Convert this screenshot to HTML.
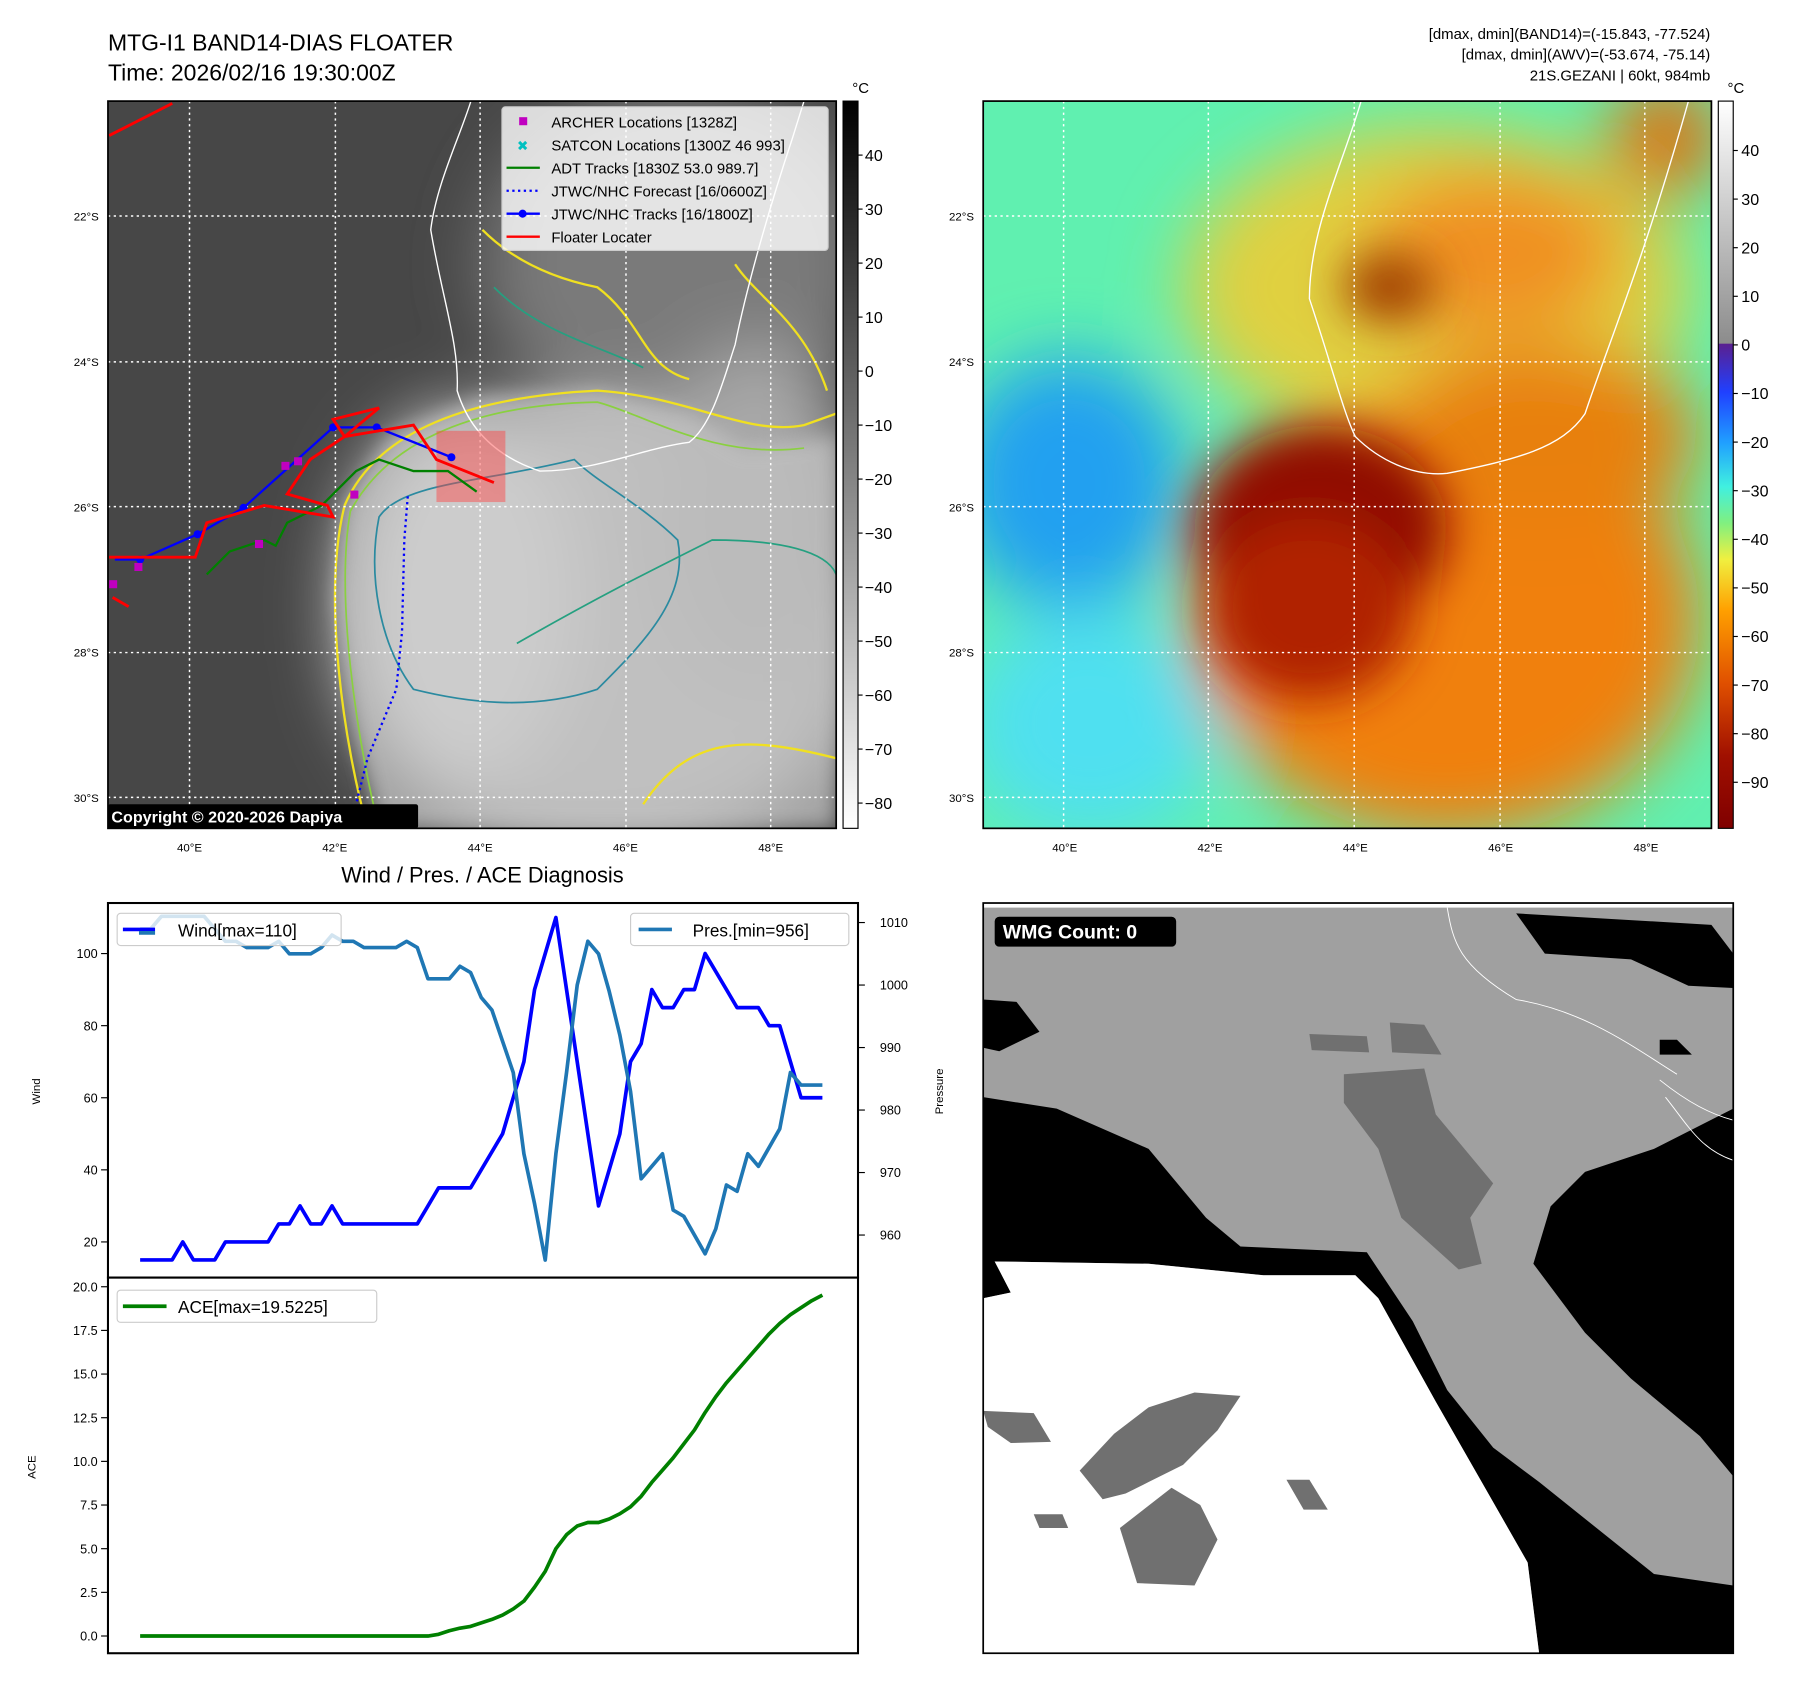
<!DOCTYPE html>
<html><head><meta charset="utf-8">
<style>
html,body{margin:0;padding:0;background:#fff;}
svg{display:block;font-family:"Liberation Sans","DejaVu Sans",sans-serif;}
</style></head>
<body>
<svg id="root" width="1801" height="1690" viewBox="0 0 1568 1471" preserveAspectRatio="none" xmlns="http://www.w3.org/2000/svg">
<defs>
  <clipPath id="cl1"><rect x="94" y="88" width="634" height="633"/></clipPath>
  <clipPath id="cl2"><rect x="856" y="88" width="634" height="633"/></clipPath>
  <clipPath id="cl3"><rect x="856" y="786" width="653" height="653"/></clipPath>
  <filter id="blur8" x="-50%" y="-50%" width="200%" height="200%"><feGaussianBlur stdDeviation="8"/></filter>
  <filter id="blur20" x="-50%" y="-50%" width="200%" height="200%"><feGaussianBlur stdDeviation="20"/></filter>
  <filter id="blur35" x="-50%" y="-50%" width="200%" height="200%"><feGaussianBlur stdDeviation="30"/></filter>
  <linearGradient id="cb1" x1="0" y1="0" x2="0" y2="1">
    <stop offset="0" stop-color="#000"/><stop offset="1" stop-color="#fff"/>
  </linearGradient>
  <linearGradient id="cb2" x1="0" y1="0" x2="0" y2="1">
    <stop offset="0" stop-color="#ffffff"/>
    <stop offset="0.333" stop-color="#8c8c8c"/>
    <stop offset="0.334" stop-color="#5a2090"/>
    <stop offset="0.40" stop-color="#2040ff"/>
    <stop offset="0.47" stop-color="#20a0ff"/>
    <stop offset="0.53" stop-color="#40f0e0"/>
    <stop offset="0.58" stop-color="#80f080"/>
    <stop offset="0.63" stop-color="#f0f040"/>
    <stop offset="0.70" stop-color="#ffa000"/>
    <stop offset="0.80" stop-color="#e05000"/>
    <stop offset="0.90" stop-color="#a01000"/>
    <stop offset="1" stop-color="#800000"/>
  </linearGradient>
</defs>

<text x="94" y="44" font-size="20">MTG-I1 BAND14-DIAS FLOATER</text>
<text x="94" y="70" font-size="20">Time: 2026/02/16 19:30:00Z</text>
<g font-size="13" text-anchor="end">
  <text x="1489" y="34">[dmax, dmin](BAND14)=(-15.843, -77.524)</text>
  <text x="1489" y="52">[dmax, dmin](AWV)=(-53.674, -75.14)</text>
  <text x="1489" y="70">21S.GEZANI | 60kt, 984mb</text>
</g>

<g clip-path="url(#cl1)">
  <rect x="94" y="88" width="634" height="633" fill="#474747"/>
  <g filter="url(#blur35)">
    <ellipse cx="590" cy="230" rx="170" ry="150" fill="#7a7a7a"/>
    <ellipse cx="530" cy="550" rx="230" ry="200" fill="#b8b8b8"/>
    <ellipse cx="400" cy="520" rx="100" ry="160" fill="#e2e2e2"/>
    <ellipse cx="660" cy="450" rx="90" ry="150" fill="#a8a8a8"/>
  </g>
  <path d="M300,440 L340,380 L420,345 L520,340 L600,360 L650,390 L728,380 L728,721 L330,721 L310,640 L292,520 Z" fill="#c4c4c4" filter="url(#blur8)" opacity="0.7"/>
  <path d="M300,440 C330,370 420,345 520,340 C600,345 650,380 700,370 L728,360 M320,721 C300,650 280,520 300,440 M728,660 C650,640 600,640 560,700" fill="none" stroke="#f0e020" stroke-width="2"/>
  <path d="M420,200 C440,220 470,240 520,250 C560,280 560,320 600,330 M640,230 C660,260 700,280 720,340" fill="none" stroke="#f0e020" stroke-width="2"/>
  <path d="M305,445 C340,380 420,352 520,350 C560,360 620,400 700,390 M330,721 C310,640 292,520 305,445" fill="none" stroke="#8ad040" stroke-width="1.5"/>
  <path d="M330,450 C350,420 420,420 500,400 C520,420 560,440 590,470 C600,520 560,560 520,600 C460,620 400,610 360,600 C330,560 320,500 330,450 Z" fill="none" stroke="#2a8aa0" stroke-width="1.5"/>
  <path d="M450,560 C520,520 560,500 620,470 C680,470 720,480 728,500 M430,250 C470,290 520,300 560,320" fill="none" stroke="#25a080" stroke-width="1.5"/>
  <path d="M410,88 C400,120 380,160 375,200 C385,260 400,300 398,340 C410,380 440,400 470,410 C520,410 560,390 600,385 C620,370 630,330 640,300 C650,250 670,180 690,120 L700,88" fill="none" stroke="#fff" stroke-width="1.2"/>
  <g stroke="#fff" stroke-width="1.3" stroke-dasharray="2,3">
    <line x1="165" y1="88" x2="165" y2="721"/><line x1="292" y1="88" x2="292" y2="721"/><line x1="418" y1="88" x2="418" y2="721"/><line x1="545" y1="88" x2="545" y2="721"/><line x1="671" y1="88" x2="671" y2="721"/>
    <line x1="94" y1="188" x2="728" y2="188"/><line x1="94" y1="315" x2="728" y2="315"/><line x1="94" y1="441" x2="728" y2="441"/><line x1="94" y1="568" x2="728" y2="568"/><line x1="94" y1="694" x2="728" y2="694"/>
  </g>
  <rect x="380" y="375" width="60" height="62" fill="#ff4040" opacity="0.45"/>
  <polyline points="355,432 352,470 350,550 345,600 320,660 310,700" fill="none" stroke="#0000ff" stroke-width="2" stroke-dasharray="2,3"/>
  <polyline points="180,500 200,480 230,470 240,475 250,455 280,440 300,420 310,410 330,400 360,410 390,410 415,428" fill="none" stroke="#008000" stroke-width="2"/>
  <polyline points="100,487 122,487 172,465 212,442 290,372 328,372 393,398" fill="none" stroke="#0000ff" stroke-width="2"/>
  <g fill="#0000ff"><circle cx="122" cy="487" r="3.5"/><circle cx="172" cy="465" r="3.5"/><circle cx="212" cy="442" r="3.5"/><circle cx="290" cy="372" r="3.5"/><circle cx="328" cy="372" r="3.5"/><circle cx="393" cy="398" r="3.5"/></g>
  <polyline points="95,485 170,485 180,455 230,440 290,450 285,440 250,430 270,400 300,380 290,365 330,355 300,380 360,370 380,400 430,420" fill="none" stroke="#ff0000" stroke-width="2.5"/>
  <polyline points="95,118 150,90" fill="none" stroke="#ff0000" stroke-width="2.5"/>
  <polyline points="98,520 112,528" fill="none" stroke="#ff0000" stroke-width="2.5"/>
  <g fill="#c000c0"><rect x="245" y="402" width="7" height="7"/><rect x="256" y="398" width="7" height="7"/><rect x="305" y="427" width="7" height="7"/><rect x="222" y="470" width="7" height="7"/><rect x="117" y="490" width="7" height="7"/><rect x="95" y="505" width="7" height="7"/></g>
  <rect x="94" y="700" width="270" height="21" fill="#000" rx="2"/>
  <text x="97" y="716" font-size="14" font-weight="bold" fill="#fff">Copyright © 2020-2026 Dapiya</text>
</g>
<rect x="94" y="88" width="634" height="633" fill="none" stroke="#000" stroke-width="1.5"/>
<g>
  <rect x="437" y="93" width="284" height="125" fill="#fff" fill-opacity="0.8" stroke="#ccc" rx="3"/>
  <rect x="452" y="102" width="7" height="7" fill="#c000c0"/>
  <text x="455" y="131" font-size="12" fill="#00c0c0" text-anchor="middle">✖</text>
  <line x1="441" y1="146" x2="470" y2="146" stroke="#008000" stroke-width="2"/>
  <line x1="441" y1="166" x2="470" y2="166" stroke="#0000ff" stroke-width="2" stroke-dasharray="2,3"/>
  <line x1="441" y1="186" x2="470" y2="186" stroke="#0000ff" stroke-width="2"/><circle cx="455" cy="186" r="3.5" fill="#0000ff"/>
  <line x1="441" y1="206" x2="470" y2="206" stroke="#ff0000" stroke-width="2"/>
  <g font-size="13">
    <text x="480" y="111">ARCHER Locations [1328Z]</text>
    <text x="480" y="131">SATCON Locations [1300Z 46 993]</text>
    <text x="480" y="151">ADT Tracks [1830Z 53.0 989.7]</text>
    <text x="480" y="171">JTWC/NHC Forecast [16/0600Z]</text>
    <text x="480" y="191">JTWC/NHC Tracks [16/1800Z]</text>
    <text x="480" y="211">Floater Locater</text>
  </g>
</g>
<rect x="734" y="88" width="13" height="633" fill="url(#cb1)" stroke="#000" stroke-width="1"/>
<text x="742" y="81" font-size="13">°C</text>
<g id="cb1ticks" font-size="14"></g>

<g clip-path="url(#cl2)">
  <rect x="856" y="88" width="634" height="633" fill="#60f0b0"/>
  <g filter="url(#blur35)">
    <ellipse cx="930" cy="420" rx="100" ry="110" fill="#20a0f0"/>
    <ellipse cx="950" cy="630" rx="110" ry="100" fill="#50e0f0"/>
    <ellipse cx="1250" cy="250" rx="220" ry="140" fill="#e0d040"/>
    <ellipse cx="1300" cy="220" rx="110" ry="70" fill="#f09020"/>
    <ellipse cx="1450" cy="120" rx="50" ry="50" fill="#e07010"/>
    <ellipse cx="1260" cy="540" rx="220" ry="190" fill="#f08010"/>
    <ellipse cx="1340" cy="380" rx="140" ry="80" fill="#e88010"/>
  </g>
  <g filter="url(#blur20)">
    <ellipse cx="1150" cy="460" rx="110" ry="90" fill="#900800"/>
    <ellipse cx="1140" cy="530" rx="90" ry="80" fill="#b02000"/>
    <ellipse cx="1210" cy="250" rx="40" ry="30" fill="#a04000"/>
  </g>
  <path d="M1185,88 C1170,140 1140,200 1140,260 C1160,320 1170,360 1180,380 C1200,400 1230,415 1260,412 C1320,400 1360,390 1380,360 C1400,300 1430,230 1470,88" fill="none" stroke="#fff" stroke-width="1.2"/>
  <g stroke="#fff" stroke-width="1.3" stroke-dasharray="2,3">
    <line x1="926" y1="88" x2="926" y2="721"/><line x1="1052" y1="88" x2="1052" y2="721"/><line x1="1179" y1="88" x2="1179" y2="721"/><line x1="1306" y1="88" x2="1306" y2="721"/><line x1="1432" y1="88" x2="1432" y2="721"/>
    <line x1="856" y1="188" x2="1490" y2="188"/><line x1="856" y1="315" x2="1490" y2="315"/><line x1="856" y1="441" x2="1490" y2="441"/><line x1="856" y1="568" x2="1490" y2="568"/><line x1="856" y1="694" x2="1490" y2="694"/>
  </g>
</g>
<rect x="856" y="88" width="634" height="633" fill="none" stroke="#000" stroke-width="1.5"/>
<rect x="1496" y="88" width="13" height="633" fill="url(#cb2)" stroke="#000" stroke-width="1"/>
<text x="1504" y="81" font-size="13">°C</text>
<g id="cb2ticks" font-size="14"></g>
<g id="maplabels" font-size="10"></g>

<text x="420" y="768" font-size="19" text-anchor="middle">Wind / Pres. / ACE Diagnosis</text>
<g id="charts"></g>

<g clip-path="url(#cl3)">
  <rect x="856" y="786" width="653" height="653" fill="#fff"/>
  <rect x="856" y="790" width="653" height="649" fill="#a0a0a0"/>
  <polygon points="856,870 885,872 905,898 870,915 856,912" fill="#000"/>
  <polygon points="1320,795 1490,805 1509,830 1509,860 1470,858 1420,835 1345,830" fill="#000"/>
  <polygon points="856,955 920,965 1000,1000 1050,1060 1080,1085 1190,1090 1230,1150 1260,1210 1300,1260 1340,1290 1390,1330 1440,1370 1509,1380 1509,1439 1340,1439 1330,1360 1290,1290 1250,1220 1200,1130 1180,1110 1100,1110 1000,1100 866,1098 880,1125 856,1130" fill="#000"/>
  <polygon points="1509,965 1440,1000 1380,1020 1350,1050 1335,1100 1380,1160 1420,1200 1480,1250 1509,1285" fill="#000"/>
  <polygon points="856,1130 880,1125 866,1098 1000,1100 1100,1110 1180,1110 1200,1130 1250,1220 1290,1290 1330,1360 1340,1439 856,1439" fill="#fff"/>
  <g fill="#707070">
    <polygon points="1170,935 1240,930 1250,970 1300,1030 1280,1060 1290,1100 1270,1105 1220,1060 1200,1000 1170,960"/>
    <polygon points="1140,900 1190,902 1192,916 1142,914"/>
    <polygon points="1210,890 1240,892 1255,918 1212,916"/>
    <polygon points="856,1228 900,1230 915,1255 880,1256 860,1242"/>
    <polygon points="940,1280 970,1248 1000,1225 1040,1212 1080,1215 1060,1245 1030,1275 1000,1290 980,1300 960,1305"/>
    <polygon points="975,1330 1020,1295 1045,1310 1060,1340 1040,1380 990,1378"/>
    <polygon points="900,1318 925,1318 930,1330 905,1330"/>
    <polygon points="1120,1288 1140,1288 1156,1314 1135,1314"/>
  </g>
  <polygon points="1445,905 1460,905 1473,918 1445,918" fill="#000"/>
  <path d="M1260,790 C1265,820 1270,840 1320,870 C1380,880 1420,910 1460,935 M1445,940 C1470,960 1490,970 1509,975 M1450,955 C1470,980 1480,1000 1509,1010" fill="none" stroke="#fff" stroke-width="0.8"/>
</g>
<rect x="856" y="786" width="653" height="653" fill="none" stroke="#000" stroke-width="1.5"/>
<rect x="866" y="798" width="158" height="26" rx="4" fill="#000"/>
<text x="873" y="817" font-size="17" font-weight="bold" fill="#fff">WMG Count: 0</text>

<script>
const windVals=[15,15,15,15,20,15,15,15,20,20,20,20,20,25,25,30,25,25,30,25,25,25,25,25,25,25,25,30,35,35,35,35,40,45,50,60,70,90,100,110,90,70,50,30,40,50,70,75,90,85,85,90,90,100,95,90,85,85,85,80,80,70,60,60,60];
const presVals=[1009,1009,1011,1011,1011,1011,1011,1009,1007,1007,1006,1006,1006,1007,1005,1005,1005,1006,1008,1007,1007,1006,1006,1006,1006,1007,1006,1001,1001,1001,1003,1002,998,996,991,986,973,965,956,973,986,1000,1007,1005,999,992,983,969,971,973,964,963,960,957,961,968,967,973,971,974,977,986,984,984,984];
const aceVals=[0,0,0,0,0,0,0,0,0,0,0,0,0,0,0,0,0,0,0,0,0,0,0,0,0,0,0,0,0.1,0.3,0.45,0.55,0.75,0.95,1.2,1.55,2.0,2.8,3.7,5.0,5.8,6.3,6.5,6.5,6.7,7.0,7.4,8.0,8.8,9.5,10.2,11.0,11.8,12.8,13.7,14.5,15.2,15.9,16.6,17.3,17.9,18.4,18.8,19.2,19.52];
const windTicks=[20,40,60,80,100];
const presTicks=[960,970,980,990,1000,1010];
const aceTicks=[0,2.5,5,7.5,10,12.5,15,17.5,20];
const irTicks=[40,30,20,10,0,-10,-20,-30,-40,-50,-60,-70,-80];
const awvTicks=[40,30,20,10,0,-10,-20,-30,-40,-50,-60,-70,-80,-90];
const latLabels=["22°S","24°S","26°S","28°S","30°S"];
const lonLabels=["40°E","42°E","44°E","46°E","48°E"];

const NS="http://www.w3.org/2000/svg";
function mk(tag,attrs,parent,txt){const e=document.createElementNS(NS,tag);for(const k in attrs)e.setAttribute(k,attrs[k]);if(txt!==undefined)e.textContent=txt;parent.appendChild(e);return e;}
const charts=document.getElementById('charts');
const X0=122,X1=716;
const xS=i=>X0+(X1-X0)*i/(windVals.length-1);
const yW=v=>1081-(v-20)*(1081-830)/80;
const yP=v=>1075-(v-960)*(1075-803)/50;
const yA=v=>1424-v*(1424-1120)/20;

let f1=mk('rect',{x:94,y:786,width:653,height:326,fill:'none',stroke:'#000','stroke-width':1.8},charts);


let f2=mk('rect',{x:94,y:1112,width:653,height:327,fill:'none',stroke:'#000','stroke-width':1.8},charts);



windTicks.forEach(t=>{const y=yW(t);mk('line',{x1:88,y1:y,x2:94,y2:y,stroke:'#000'},charts);
 const tx=mk('text',{x:85,y:y+4,'font-size':11,'text-anchor':'end'},charts,String(t));
 
 });
presTicks.forEach(t=>{const y=yP(t);mk('line',{x1:747,y1:y,x2:753,y2:y,stroke:'#000'},charts);
 const tx=mk('text',{x:766,y:y+4,'font-size':11},charts,String(t));
 
 });
aceTicks.forEach(t=>{const y=yA(t);mk('line',{x1:88,y1:y,x2:94,y2:y,stroke:'#000'},charts);
 const tx=mk('text',{x:85,y:y+4,'font-size':11,'text-anchor':'end'},charts,t.toFixed(1));
 
 });

let lab=mk('text',{x:0,y:0,'font-size':10,'text-anchor':'middle',transform:'translate(35,950) rotate(-90)'},charts,'Wind');


lab=mk('text',{x:0,y:0,'font-size':10,'text-anchor':'middle',transform:'translate(821,950) rotate(-90)'},charts,'Pressure');


lab=mk('text',{x:0,y:0,'font-size':10,'text-anchor':'middle',transform:'translate(31,1277) rotate(-90)'},charts,'ACE');



let pw=mk('polyline',{points:windVals.map((v,i)=>xS(i)+','+yW(v)).join(' '),fill:'none',stroke:'#0000ff','stroke-width':3.2,'stroke-linejoin':'round'},charts);


let pp=mk('polyline',{points:presVals.map((v,i)=>xS(i)+','+yP(v)).join(' '),fill:'none',stroke:'#1f77b4','stroke-width':3.2,'stroke-linejoin':'round'},charts);


let pa=mk('polyline',{points:aceVals.map((v,i)=>xS(i)+','+yA(v)).join(' '),fill:'none',stroke:'#008000','stroke-width':3.2,'stroke-linejoin':'round'},charts);



let lg=mk('g',{},charts);


mk('rect',{x:102,y:795,width:195,height:28,rx:3,fill:'#fff','fill-opacity':0.8,stroke:'#ccc'},lg);
mk('line',{x1:107,y1:809,x2:135,y2:809,stroke:'#0000ff','stroke-width':3.2},lg);
mk('line',{x1:121,y1:812,x2:135,y2:812,stroke:'#1f77b4','stroke-width':3.2},lg);
mk('text',{x:155,y:815,'font-size':15},lg,'Wind[max=110]');
lg=mk('g',{},charts);


mk('rect',{x:549,y:795,width:190,height:28,rx:3,fill:'#fff','fill-opacity':0.8,stroke:'#ccc'},lg);
mk('line',{x1:556,y1:809,x2:585,y2:809,stroke:'#1f77b4','stroke-width':3.2},lg);
mk('text',{x:603,y:815,'font-size':15},lg,'Pres.[min=956]');
lg=mk('g',{},charts);


mk('rect',{x:102,y:1123,width:226,height:28,rx:3,fill:'#fff','fill-opacity':0.8,stroke:'#ccc'},lg);
mk('line',{x1:107,y1:1137,x2:145,y2:1137,stroke:'#008000','stroke-width':3.2},lg);
mk('text',{x:155,y:1143,'font-size':15},lg,'ACE[max=19.5225]');

const cb1=document.getElementById('cb1ticks');
irTicks.forEach(t=>{const y=135+(40-t)*4.7;mk('line',{x1:747,y1:y,x2:751,y2:y,stroke:'#000'},cb1);
 const tx=mk('text',{x:753,y:y+5},cb1,t<0?'\u2212'+(-t):String(t));
 
 });
const cb2=document.getElementById('cb2ticks');
awvTicks.forEach(t=>{const y=131+(40-t)*4.23;mk('line',{x1:1509,y1:y,x2:1513,y2:y,stroke:'#000'},cb2);
 const tx=mk('text',{x:1516,y:y+5},cb2,t<0?'\u2212'+(-t):String(t));
 
 });
const ml=document.getElementById('maplabels');
[0,762].forEach(off=>{
 latLabels.forEach((s,i)=>{const y=188+i*126.5;const tx=mk('text',{x:86+off,y:y+4,'text-anchor':'end'},ml,s);
  
  });
 lonLabels.forEach((s,i)=>{const x=165+i*126.5+off;const tx=mk('text',{x:x,y:741,'text-anchor':'middle'},ml,s);
  
  });
});
</script>
</svg>
</body></html>
